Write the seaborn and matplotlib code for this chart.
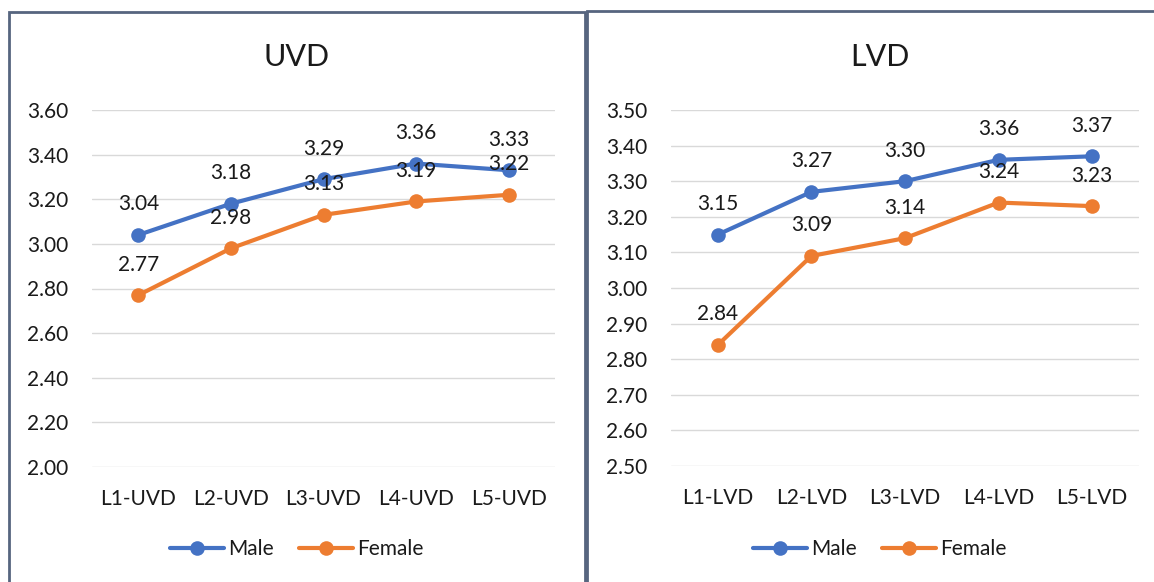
import matplotlib
matplotlib.use("Agg")
import matplotlib.pyplot as plt
from matplotlib.patches import Rectangle
from matplotlib.lines import Line2D
import seaborn as sns
import pandas as pd

# Vertebral dimension means by level and sex
uvd_levels = ["L1-UVD", "L2-UVD", "L3-UVD", "L4-UVD", "L5-UVD"]
uvd_male = [3.04, 3.18, 3.29, 3.36, 3.33]
uvd_female = [2.77, 2.98, 3.13, 3.19, 3.22]

lvd_levels = ["L1-LVD", "L2-LVD", "L3-LVD", "L4-LVD", "L5-LVD"]
lvd_male = [3.15, 3.27, 3.30, 3.36, 3.37]
lvd_female = [2.84, 3.09, 3.14, 3.24, 3.23]

uvd_ticks = [2.00, 2.20, 2.40, 2.60, 2.80, 3.00, 3.20, 3.40, 3.60]
lvd_ticks = [2.50, 2.60, 2.70, 2.80, 2.90, 3.00, 3.10, 3.20, 3.30, 3.40, 3.50]

BLUE = "#4472C4"
ORANGE = "#ED7D31"
FRAME = "#56657f"
GRID = "#d9d9d9"
TEXT = "#1a1a1a"
FS = 15

sns.set_theme(style="white")
plt.rcParams["font.family"] = ["Lato", "DejaVu Sans"]

W, H = 1154, 582
fig = plt.figure(figsize=(W / 100, H / 100), dpi=100)


def frac_x(px):
    return px / W


def frac_y(py):
    return 1 - py / H


def panel(levels, male, female, ticks, title, ax_px, chart_px):
    x0, x1, ytop, ybot = ax_px
    ax = fig.add_axes([frac_x(x0), frac_y(ybot), frac_x(x1 - x0), frac_y(ytop) - frac_y(ybot)])
    df = pd.DataFrame({
        "level": levels * 2,
        "value": male + female,
        "sex": ["Male"] * len(levels) + ["Female"] * len(levels),
    })
    sns.lineplot(data=df, x="level", y="value", hue="sex", sort=False,
                 palette={"Male": BLUE, "Female": ORANGE}, marker="o",
                 markersize=10.5, markeredgewidth=0, linewidth=3, ax=ax,
                 legend=False, zorder=3)
    ax.set_xlim(-0.5, len(levels) - 0.5)
    ax.set_ylim(ticks[0], ticks[-1])
    ax.set_yticks(ticks)
    ax.set_yticklabels([f"{t:.2f}" for t in ticks])
    ax.set_xlabel("")
    ax.set_ylabel("")
    for s in ax.spines.values():
        s.set_visible(False)
    ax.grid(axis="y", color=GRID, linewidth=1)
    ax.grid(axis="x", visible=False)
    ax.tick_params(axis="both", length=0, labelsize=FS, colors=TEXT)
    ax.tick_params(axis="x", pad=16)
    ax.tick_params(axis="y", pad=17)
    for series in (male, female):
        for i, v in enumerate(series):
            ax.annotate(f"{v:.2f}", (i, v), xytext=(0, 22), textcoords="offset points",
                        ha="center", va="center", fontsize=FS, color=TEXT, zorder=4)

    cx0, cx1 = chart_px
    cx = frac_x((cx0 + cx1) / 2)
    fig.text(cx, frac_y(57), title, ha="center", va="center", fontsize=22, color=TEXT)
    handles = [
        Line2D([], [], color=BLUE, marker="o", markersize=10.5, markeredgewidth=0, linewidth=3),
        Line2D([], [], color=ORANGE, marker="o", markersize=10.5, markeredgewidth=0, linewidth=3),
    ]
    fig.legend(handles, ["Male", "Female"], loc="center", bbox_to_anchor=(cx, frac_y(549)),
               ncol=2, frameon=False, fontsize=FS, handlelength=2.6, columnspacing=1.2,
               handletextpad=0.2, labelcolor=TEXT)
    return ax


panel(uvd_levels, uvd_male, uvd_female, uvd_ticks, "UVD", (92, 555, 110, 467), (8, 585))
panel(lvd_levels, lvd_male, lvd_female, lvd_ticks, "LVD", (671, 1139, 110, 466), (587, 1173))

# chart frames
fig.patches.append(Rectangle((frac_x(8.5), frac_y(600)), frac_x(576), frac_y(12.5) - frac_y(600),
                             transform=fig.transFigure, fill=False, edgecolor=FRAME, linewidth=2))
fig.patches.append(Rectangle((frac_x(587), frac_y(600)), frac_x(600), frac_y(11) - frac_y(600),
                             transform=fig.transFigure, fill=False, edgecolor=FRAME, linewidth=2))

fig.savefig("out.png", dpi=100)
